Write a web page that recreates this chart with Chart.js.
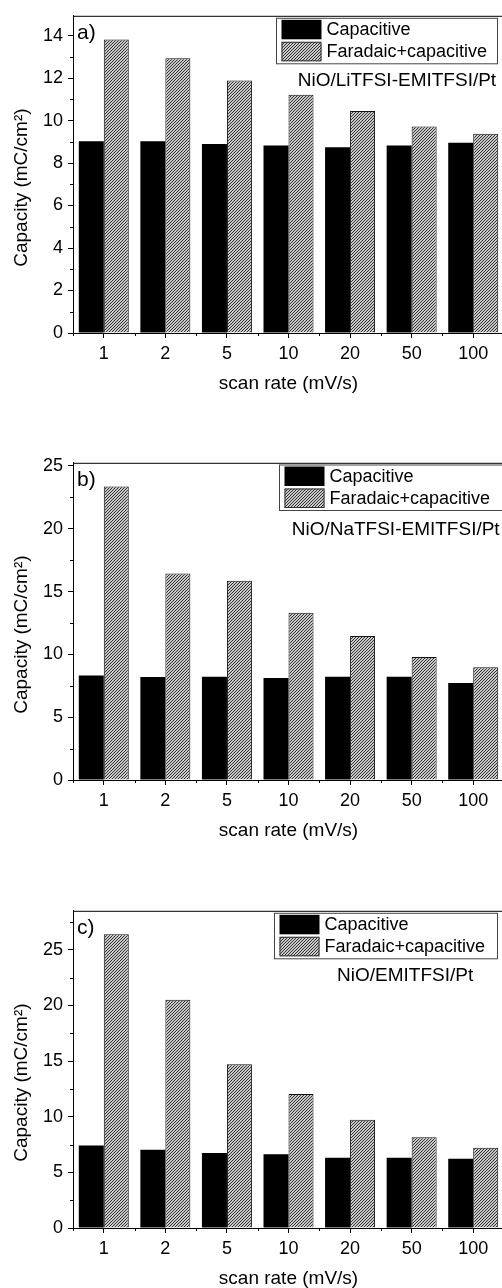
<!DOCTYPE html>
<html><head><meta charset="utf-8">
<script src="https://cdn.jsdelivr.net/npm/chart.js@4.4.1/dist/chart.umd.min.js"></script>
<style>
html,body{margin:0;padding:0;background:#fff;overflow:hidden;width:502px;height:1288px;position:relative;}
.panel{position:absolute;left:0;width:504px;height:400px;}
</style></head><body>
<div class="panel" style="top:0px"><canvas id="ca" width="504" height="400"></canvas></div>
<div class="panel" style="top:447px"><canvas id="cb" width="504" height="400"></canvas></div>
<div class="panel" style="top:895px"><canvas id="cc" width="504" height="400"></canvas></div>
<script>
// ---- data ----
const scanRates = ['1', '2', '5', '10', '20', '50', '100'];
const seriesNames = ['Capacitive', 'Faradaic+capacitive'];
const capA = [9.02, 9.02, 8.89, 8.82, 8.74, 8.82, 8.96];
const farA = [13.81, 12.93, 11.88, 11.21, 10.45, 9.72, 9.38];
const capB = [8.32, 8.19, 8.22, 8.11, 8.22, 8.22, 7.72];
const farB = [23.36, 16.43, 15.87, 13.31, 11.47, 9.80, 8.98];
const capC = [7.42, 7.03, 6.73, 6.62, 6.32, 6.32, 6.23];
const farC = [26.40, 20.50, 14.72, 12.05, 9.73, 8.16, 7.21];
const yTicksA = [0, 2, 4, 6, 8, 10, 12, 14];
const yTicksB = [0, 5, 10, 15, 20, 25];
const yTicksC = [0, 5, 10, 15, 20, 25];
const yMaxA = 14.93, yMaxB = 25.25, yMaxC = 28.5;
const panelLabels = ['a)', 'b)', 'c)'];
const systemLabels = ['NiO/LiTFSI-EMITFSI/Pt', 'NiO/NaTFSI-EMITFSI/Pt', 'NiO/EMITFSI/Pt'];
const xTitle = 'scan rate (mV/s)';
const yTitle = 'Capacity (mC/cm²)';

const FONT = '"Liberation Sans", Arial, Helvetica, sans-serif';
Chart.defaults.font.family = FONT;
Chart.defaults.color = '#000';

function hatch() {
  const c = document.createElement('canvas');
  c.width = 3; c.height = 3;
  const g = c.getContext('2d');
  g.fillStyle = '#c8c8c8'; g.fillRect(0, 0, 3, 3);
  g.fillStyle = '#333333';
  for (let x = 0; x < 3; x++) { const y = (2 - x + 3) % 3; g.fillRect(x, y, 1, 1); }
  return g.createPattern(c, 'repeat');
}

const decor = {
  id: 'decor',
  afterDraw(chart, args, o) {
    const {ctx, chartArea: {left, right, top, bottom}, scales: {x, y}} = chart;
    ctx.save();
    ctx.strokeStyle = '#000'; ctx.lineWidth = 1;
    const line = (x1, y1, x2, y2) => { ctx.beginPath(); ctx.moveTo(x1, y1); ctx.lineTo(x2, y2); ctx.stroke(); };
    // top frame
    line(left, top + 0.5, right, top + 0.5);
    // minor y ticks
    for (let v = o.minor; v <= y.max; v += 2 * o.minor) {
      const py = Math.round(y.getPixelForValue(v)) + 0.5;
      line(left - 3, py, left, py);
    }
    // minor x ticks at category boundaries
    for (let i = 0; i <= scanRates.length; i++) {
      const px = Math.round(x.getPixelForValue(i - 0.5)) + 0.5;
      line(px, bottom, px, bottom + 3);
    }
    // legend
    const L = o.legend;
    const by = top + L.dy;
    ctx.strokeStyle = '#444';
    ctx.strokeRect(L.left + 0.5, by + 0.5, L.right - L.left, 45.5);
    ctx.font = '18px ' + FONT;
    ctx.textBaseline = 'middle';
    ctx.textAlign = 'left';
    chart.data.datasets.forEach((ds, i) => {
      const sx = L.left + 5.5, sy = by + 2 + i * 22;
      ctx.fillStyle = ds.backgroundColor;
      ctx.fillRect(sx, sy, 40, 19.5);
      if (ds.borderWidth) { ctx.strokeStyle = '#333'; ctx.strokeRect(sx + 0.5, sy + 0.5, 39, 18.5); }
      ctx.fillStyle = '#000';
      ctx.fillText(ds.label, sx + 45, sy + 10.5);
    });
    // panel label
    ctx.font = '21px ' + FONT;
    ctx.textBaseline = 'alphabetic';
    ctx.fillText(o.panel, left + 4, top + 23);
    // system label
    ctx.font = '19px ' + FONT;
    ctx.fillText(o.system, o.sysX, top + o.sysDy);
    ctx.restore();
  }
};

function makeChart(id, cap, far, yTicks, yMax, minor, idx, legend, sysX, sysDy) {
  return new Chart(document.getElementById(id), {
    type: 'bar',
    data: {
      labels: scanRates,
      datasets: [
        {label: seriesNames[0], data: cap, backgroundColor: '#000', borderWidth: 0},
        {label: seriesNames[1], data: far, backgroundColor: hatch(), borderColor: '#111', borderWidth: 1}
      ]
    },
    options: {
      responsive: false,
      animation: false,
      layout: {padding: {top: 13, left: 0, right: 0, bottom: 0}},
      datasets: {bar: {categoryPercentage: 0.812, barPercentage: 1.0}},
      plugins: {
        legend: {display: false},
        tooltip: {enabled: false},
        decor: {minor: minor, panel: panelLabels[idx], system: systemLabels[idx], legend: legend, sysX: sysX, sysDy: sysDy}
      },
      scales: {
        x: {
          afterFit: s => { s.height = 67; },
          grid: {display: true, drawOnChartArea: false, offset: false, tickLength: 5, color: '#000', lineWidth: 1},
          border: {display: true, color: '#000', width: 1},
          ticks: {font: {size: 18}, color: '#000', padding: 5, maxRotation: 0},
          title: {display: true, text: xTitle, font: {size: 19}, color: '#000', padding: {top: 0, bottom: 5}}
        },
        y: {
          min: 0, max: yMax,
          afterFit: s => { s.width = 73; },
          afterBuildTicks: s => { s.ticks = yTicks.map(v => ({value: v})); },
          grid: {display: true, drawOnChartArea: false, tickLength: 5, color: '#000', lineWidth: 1},
          border: {display: true, color: '#000', width: 1},
          ticks: {font: {size: 18}, color: '#000', padding: 5},
          title: {display: true, text: yTitle + '     ', font: {size: 19}, color: '#000', padding: {top: 10.6, bottom: 0}}
        }
      }
    },
    plugins: [decor]
  });
}

makeChart('ca', capA, farA, yTicksA, yMaxA, 1, 0, {left: 276, right: 497, dy: 2}, 297.7, 70);
makeChart('cb', capB, farB, yTicksB, yMaxB, 2.5, 1, {left: 279, right: 506, dy: 1.7}, 291.7, 72);
makeChart('cc', capC, farC, yTicksC, yMaxC, 2.5, 2, {left: 274, right: 497, dy: 2}, 337, 70.5);
</script>
</body></html>
